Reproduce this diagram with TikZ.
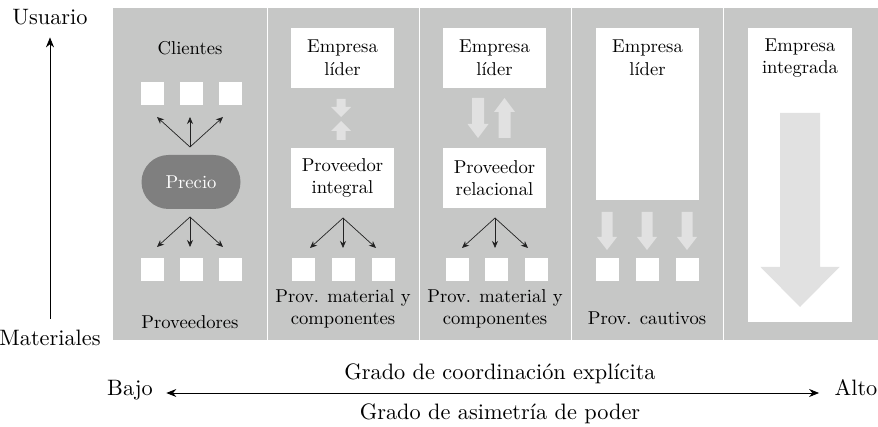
\documentclass[tikz,border=0pt]{standalone}
\usepackage{fontspec}
\setmainfont{lmroman10-regular}[Extension=.otf]
\usepackage{tikz}
\usetikzlibrary{arrows.meta, positioning, shapes.misc}
\definecolor{panelgray}{HTML}{C6C7C6}
\definecolor{pale}{HTML}{E1E1E1}
\definecolor{pricegray}{HTML}{7F7F7F}
\definecolor{ink}{HTML}{222222}

\tikzset{
  % wide pale arrow pointing down: length, shaft width, head width, head length
  pics/blockdown/.style n args={4}{code={
    \fill[pale] (-#2/2,0) -- (#2/2,0) -- (#2/2,#1-#4) -- (#3/2,#1-#4) -- (0,#1)
      -- (-#3/2,#1-#4) -- (-#2/2,#1-#4) -- cycle;
  }}
}

\begin{document}
\begin{tikzpicture}[x=1pt, y=-1pt, every node/.style={font=\fontsize{18.6}{22.5}\selectfont},
  whitebox/.style={fill=white, minimum width=103pt, minimum height=60pt, align=center, inner sep=0pt},
  sq/.style={fill=white, minimum size=23pt, inner sep=0pt},
  fan/.style={-{Stealth[length=7pt, width=6pt]}, ink, line width=0.7pt},
  big/.style={font=\fontsize{22.3}{26}\selectfont},
  axis/.style={line width=0.8pt}]
\useasboundingbox (0,0) rectangle (878,427);

% grey strip split in five columns
\fill[panelgray] (113,8) rectangle (878,340);
\foreach \x in {267,419,571,723}
  \draw[white, line width=1pt] (\x,8) -- (\x,340);

% Column 1: market
\node (clientes) at (190,48) {Clientes};
\foreach \x [count=\i] in {152,191,230} {
  \node[sq] (cli\i) at (\x,94) {};
  \node[sq] (prv\i) at (\x,270) {};
}
\node[rounded rectangle, fill=pricegray, text=white, minimum width=99pt,
  minimum height=54pt, inner sep=0pt] (precio) at (191,182) {Precio};
\coordinate (up1) at (190,147);
\coordinate (dn1) at (190,217);
\foreach \dx in {-33,0,33} {
  \draw[fan] (up1) -- ++(\dx,-30);
  \draw[fan] (dn1) -- ++(\dx,30);
}
\node (proveedores) at (190,322) {Proveedores};

% Column 2: integral supplier
\node[whitebox] (lider2) at (342.5,58) {Empresa\\líder};
\node[whitebox] (integral) at (342.5,178) {Proveedor\\integral};
\pic at (341,99) {blockdown={18}{9}{20}{10}};
\pic[rotate=180] at (341,140) {blockdown={19}{9}{20}{10}};
\coordinate (dn2) at (343,218);
\foreach \dx in {-33,0,33}
  \draw[fan] (dn2) -- ++(\dx,30);
\foreach \x [count=\i] in {303,343,383}
  \node[sq] (mat2\i) at (\x,270) {};
\node[align=center] (comp2) at (343,309) {Prov. material y\\componentes};

% Column 3: relational supplier
\node[whitebox] (lider3) at (494.5,58) {Empresa\\líder};
\node[whitebox] (relacional) at (494.5,178) {Proveedor\\relacional};
\pic at (478,98) {blockdown={40}{12}{21}{14}};
\pic[rotate=180] at (504.5,138) {blockdown={40}{12}{21}{14}};
\coordinate (dn3) at (495,218);
\foreach \dx in {-33,0,33}
  \draw[fan] (dn3) -- ++(\dx,30);
\foreach \x [count=\i] in {457,496,536}
  \node[sq] (mat3\i) at (\x,270) {};
\node[align=center] (comp3) at (495,309) {Prov. material y\\componentes};

% Column 4: captive suppliers
\node[whitebox, minimum height=172pt] (lider4) at (647.5,114) {};
\node[align=center] (lidertxt4) at (647.5,58) {Empresa\\líder};
\foreach \x [count=\i] in {607,647,687} {
  \pic at (\x,212) {blockdown={38}{11}{20}{13}};
  \node[sq] (cau\i) at (\x,270) {};
}
\node (cautivos) at (647,318) {Prov. cautivos};

% Column 5: integrated firm
\node[whitebox, minimum width=104pt, minimum height=294pt] (integrada) at (800,175) {};
\node[align=center] (integtxt) at (800,58) {Empresa\\integrada};
\pic at (800,113) {blockdown={194}{40}{79}{40}};

% vertical axis
\node[big] (usuario) at (50,17) {Usuario};
\node[big] (materiales) at (50,338) {Materiales};
\draw[axis, -{Stealth[length=10pt, width=8pt]}, shorten <=8pt, shorten >=9pt]
  (materiales.north) -- (usuario.south);

% horizontal axis
\node[big, anchor=mid] (bajo) at (130,393) {Bajo};
\node[big, anchor=mid] (alto) at (856,393) {Alto};
\draw[axis, {Stealth[length=10pt, width=8pt]}-{Stealth[length=10pt, width=8pt]},
  shorten <=10pt, shorten >=12pt] (bajo.mid east) -- (alto.mid west);
\node[big] (coordinacion) at (500,374) {Grado de coordinación explícita};
\node[big] (asimetria) at (500,414) {Grado de asimetría de poder};
\end{tikzpicture}
\end{document}
